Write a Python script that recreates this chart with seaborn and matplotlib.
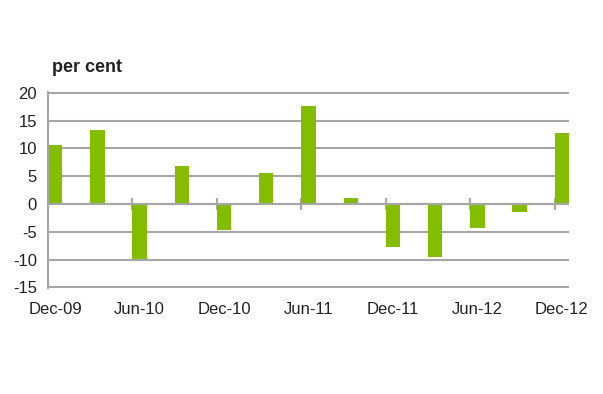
import matplotlib
matplotlib.use("Agg")
import matplotlib.pyplot as plt
import seaborn as sns
import numpy as np
import pandas as pd

quarters = ["Dec-09", "Mar-10", "Jun-10", "Sep-10", "Dec-10", "Mar-11", "Jun-11",
            "Sep-11", "Dec-11", "Mar-12", "Jun-12", "Sep-12", "Dec-12"]
values = [10.6, 13.4, -9.9, 6.9, -4.6, 5.5, 17.6, 1.1, -7.8, -9.6, -4.3, -1.4, 12.8]
y_ticks = [-15, -10, -5, 0, 5, 10, 15, 20]

sns.set_theme(style="white")
plt.rcParams["font.family"] = ["Liberation Sans", "DejaVu Sans"]

GREEN = "#84BD00"
GRID = "#A6A6A6"
BW = 0.34

fig = plt.figure(figsize=(6.03, 3.94), dpi=100)
ax = fig.add_axes([0.0796, 0.2683, 0.9436 - 0.0796, 0.7665 - 0.2683])

df = pd.DataFrame({"q": quarters, "v": values})
sns.barplot(data=df, x="q", y="v", order=quarters, color=GREEN, width=BW,
            saturation=1, ax=ax, zorder=2, linewidth=0)

ax.set_xlim(-BW / 2, len(quarters) - 1 + BW / 2)
ax.set_ylim(-15.15, 20.15)
ax.set_yticks(y_ticks)
ax.set_yticklabels([str(t) for t in y_ticks])
ax.yaxis.grid(True, color=GRID, linewidth=1.5)
ax.set_axisbelow(True)
ax.axhline(0, color=GRID, linewidth=1.5, zorder=3)

label_idx = list(range(0, len(quarters), 2))
ax.set_xticks(label_idx)
ax.set_xticklabels([quarters[i] for i in label_idx])
ax.tick_params(axis="x", length=0, pad=10, labelsize=12, colors="#222222")
ax.tick_params(axis="y", length=0, pad=8, labelsize=12, colors="#222222")
ax.set_xlabel("")
ax.set_ylabel("")

for s in ["top", "right", "bottom"]:
    ax.spines[s].set_visible(False)
ax.spines["left"].set_color(GRID)
ax.spines["left"].set_linewidth(1.5)
ax.spines["left"].set_zorder(4)

# ticks crossing the zero line at half-year boundaries
sec = ax.secondary_xaxis(15.15 / 35.3)
sec.set_xticks([i - BW / 2 for i in label_idx])
sec.set_xticklabels([])
sec.tick_params(direction="inout", length=9, width=1.5, color=GRID)
sec.spines["bottom"].set_visible(False)
sec.spines["top"].set_visible(False)

fig.text(52 / 603, 1 - 67 / 394, "per cent", fontsize=13, fontweight="bold",
         color="#222222", ha="left", va="center")

fig.savefig("out.png", dpi=100)
